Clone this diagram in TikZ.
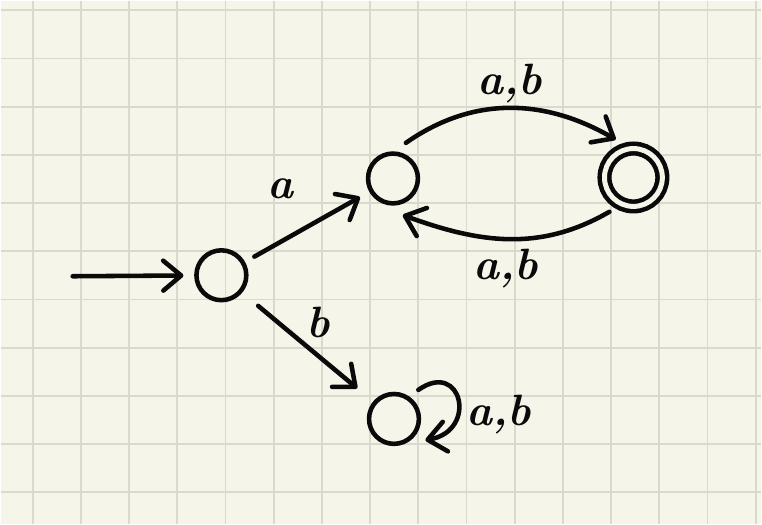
\documentclass[tikz,border=0pt]{standalone}
\usepackage{tikz}
\usetikzlibrary{arrows.meta,positioning}
\definecolor{cPaper}{HTML}{F5F5E9}
\definecolor{cGrid}{HTML}{D9D9CE}
\definecolor{cInk}{HTML}{0A0A0A}

\begin{document}
\begin{tikzpicture}[
  x=0.02cm,y=-0.02cm,
  font=\fontsize{25}{29}\selectfont\bfseries\itshape,
  st/.style={draw=cInk,circle,line width=2.6pt,minimum size=1cm,inner sep=0pt,outer sep=0.26cm},
  acc/.style={st,minimum size=1.16cm,double=cPaper,double distance=0.1cm},
  ar/.style={-{Straight Barb[length=0.36cm,width=0.6cm,round]},line width=2.6pt,line cap=round,draw=cInk},
  lbl/.style={inner sep=0pt,text=cInk},
  gridln/.style={cGrid,line width=1pt}
]
% paper and grid
\fill[cPaper] (0,0) rectangle (762,524);
\foreach \i in {0,...,15} \draw[gridln] ({32+48.3*\i},0) -- ++(0,524);
\foreach \j in {0,...,10} \draw[gridln] (0,{9.5+48.3*\j}) -- ++(762,0);

% states
\node[st] (q0) at (221,275) {};
\node[st] (q1) at (393,178) {};
\node[acc] (q2) at (634,177) {};
\node[st] (q3) at (394,419) {};
\coordinate (init) at (72,276);

% transitions
\draw[ar] (init) -- (q0);
\draw[ar] (q0) -- (q1);
\draw[ar,shorten <=0.2cm,shorten >=0.2cm] (q0) -- (q3);
\draw[ar] (q1.70) to[out=35,in=150] (q2.115);
\draw[ar] (q2.-125) to[out=-150,in=-20] (q1.-75);
\draw[ar] (q3.50) to[out=35,in=10,looseness=2.7] (q3.-34);

% labels
\node[lbl] (la) at (280,188) {a};
\node[lbl] (lb) at (318,322) {b};
\node[lbl] (ltop) at (510,83) {a,b};
\node[lbl] (lbot) at (506,268) {a,b};
\node[lbl] (lloop) at (499,415) {a,b};
\end{tikzpicture}
\end{document}
